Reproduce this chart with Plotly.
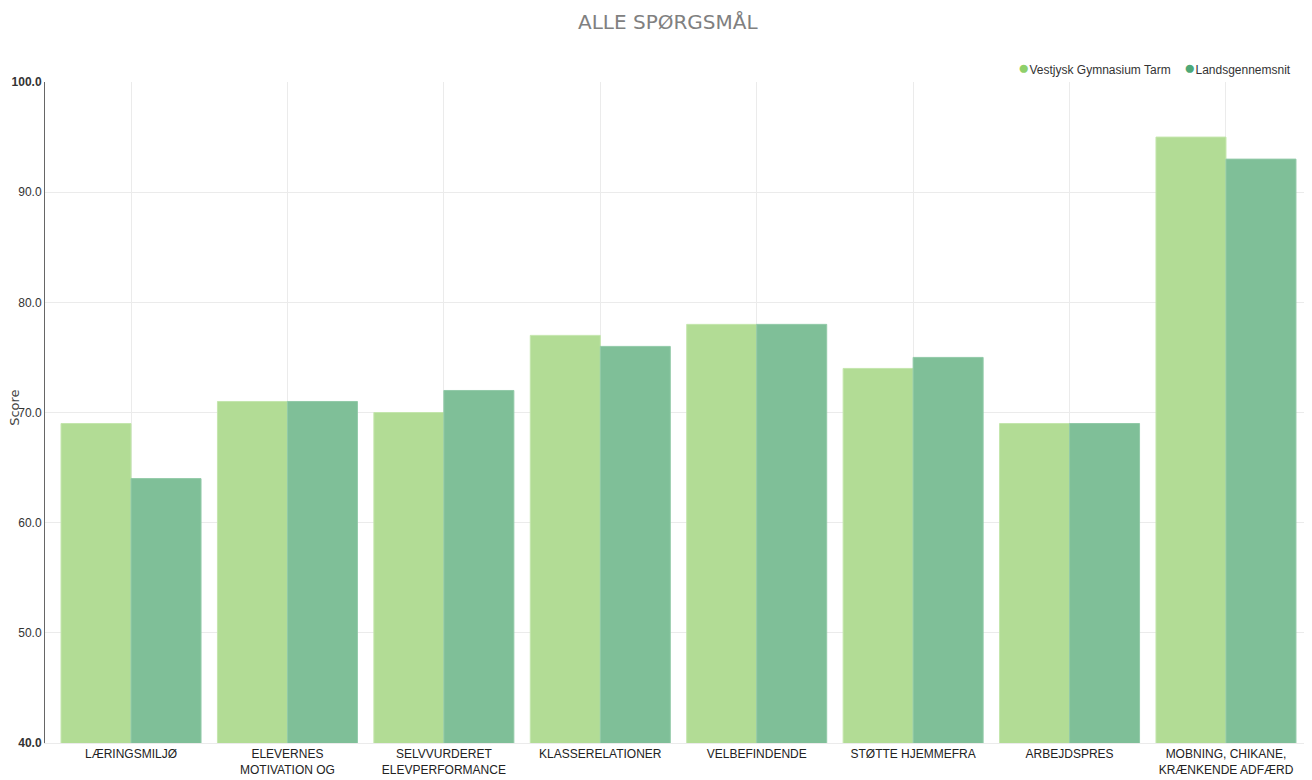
import plotly.graph_objects as go

# Data
categories = [
    "LÆRINGSMILJØ",
    "ELEVERNES<br>MOTIVATION OG<br>INDSATS",
    "SELVVURDERET<br>ELEVPERFORMANCE",
    "KLASSERELATIONER",
    "VELBEFINDENDE",
    "STØTTE HJEMMEFRA",
    "ARBEJDSPRES",
    "MOBNING, CHIKANE,<br>KRÆNKENDE ADFÆRD",
]
school_name = "Vestjysk Gymnasium Tarm"
national_name = "Landsgennemsnit"
school_scores = [69, 71, 70, 77, 78, 74, 69, 95]
national_scores = [64, 71, 72, 76, 78, 75, 69, 93]
y_ticks = [40, 50, 60, 70, 80, 90, 100]

# Colours
school_bar = "#b2dc95"
national_bar = "#7fbf98"
school_dot = "#8fd06a"
national_dot = "#4ea877"

fig = go.Figure()

fig.add_trace(go.Bar(
    x=categories, y=school_scores, name=school_name,
    marker=dict(color=school_bar, line=dict(color="#c4e6ad", width=1)),
    showlegend=False,
))
fig.add_trace(go.Bar(
    x=categories, y=national_scores, name=national_name,
    marker=dict(color=national_bar, line=dict(color="#92caa8", width=1)),
    showlegend=False,
))

# bold first and last tick label
tick_text = []
for i, v in enumerate(y_ticks):
    label = f"{v:.1f}"
    if i == 0 or i == len(y_ticks) - 1:
        label = f"<b>{label}</b>"
    tick_text.append(label)

# compact legend with round dots, as in the original
legend_text = (
    f"<span style='color:{school_dot};font-size:19px'>●</span>{school_name}"
    f"    <span style='color:{national_dot};font-size:19px'>●</span>{national_name}"
)

fig.update_layout(
    # page body adds an 8px margin, so the figure is a bit smaller than the window
    width=1304, height=772,
    paper_bgcolor="white", plot_bgcolor="white",
    font=dict(family="Liberation Sans, Arial, sans-serif", size=12, color="#333333"),
    title=dict(
        text="ALLE SPØRGSMÅL", x=0.506, xanchor="center", y=0.982, yanchor="middle",
        font=dict(family="DejaVu Sans, Verdana, sans-serif", size=20, color="#808080"),
    ),
    margin=dict(l=37, r=0, t=74, b=37),
    barmode="group", bargap=0.105, bargroupgap=0,
    showlegend=False,
    xaxis=dict(
        type="category", range=[-0.55, 7.55],
        showgrid=True, gridcolor="#ebebeb", gridwidth=1,
        showline=True, linecolor="#ebebeb", linewidth=1,
        ticks="", tickfont=dict(size=12, color="#222222"),
        automargin=False, fixedrange=True,
    ),
    yaxis=dict(
        range=[40, 100], tickvals=y_ticks, ticktext=tick_text,
        showgrid=True, gridcolor="#ebebeb", gridwidth=1,
        showline=True, linecolor="#666666", linewidth=1,
        zeroline=False, ticks="", ticklen=0,
        tickfont=dict(size=12, color="#333333"),
        automargin=False,
    ),
    annotations=[
        dict(
            text=legend_text, xref="paper", yref="paper", x=0.985, y=1.022,
            xanchor="right", yanchor="middle", showarrow=False,
            font=dict(size=12, color="#333333"),
        ),
        dict(
            text="Score", xref="paper", yref="paper", x=-0.0237, y=0.507,
            xanchor="center", yanchor="middle", textangle=-90, showarrow=False,
            font=dict(family="DejaVu Sans, Verdana, sans-serif", size=13, color="#444444"),
        ),
    ],
)

fig.write_html("out.html")
